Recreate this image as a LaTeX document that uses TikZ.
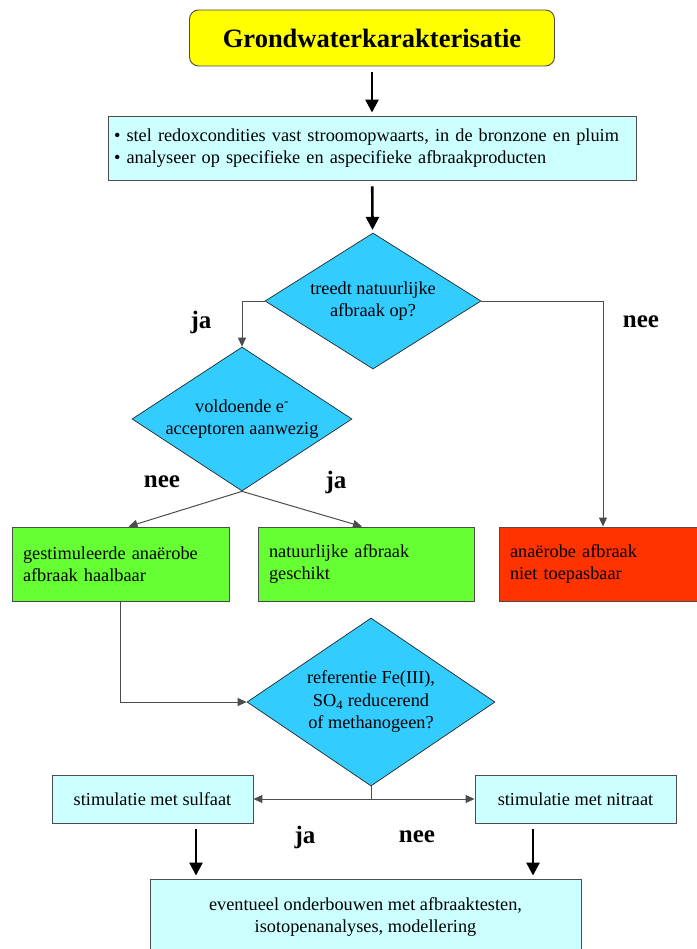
\documentclass[tikz,border=0pt]{standalone}
\usepackage{fontspec}
\setmainfont{Liberation Serif}
\usetikzlibrary{shapes.geometric,arrows.meta}
\definecolor{titleyellow}{HTML}{FFFF00}
\definecolor{infocyan}{HTML}{CCFFFF}
\definecolor{askblue}{HTML}{33CCFF}
\definecolor{okgreen}{HTML}{66FF33}
\definecolor{nored}{HTML}{FF3300}

\begin{document}
\begin{tikzpicture}
		[x=1pt,y=-1pt,
		font=\fontsize{18.3}{22.5}\selectfont,
		block/.style ={rectangle, draw=black!70, line width=0.9pt, fill=infocyan, inner sep=0pt},
		title/.style ={block, rounded corners=9pt, fill=titleyellow, font=\fontsize{26.5}{30}\selectfont\bfseries, minimum width=365, minimum height=56},
		result/.style ={block, minimum height=74, align=left},
		ask/.style ={diamond, draw=black!85, line width=0.7pt, fill=askblue, inner sep=-2pt, align=center},
		line/.style ={black!70, line width=1pt, -{Triangle[length=9pt,width=8pt]}},
		bigline/.style ={black, line width=2.6pt, -{Triangle[length=13pt,width=13pt]}, shorten <=6pt, shorten >=3pt},
		answer/.style ={font=\fontsize{25}{28}\selectfont\bfseries},
		]
		\useasboundingbox (0,0) rectangle (696,949);

		\draw (372,38) node[title] (T) {Grondwaterkarakterisatie};
		\draw (372,148) node[block, minimum width=528, minimum height=64, text width=516, align=left] (S)
			{\textbullet\ stel redoxcondities vast stroomopwaarts, in de bronzone en pluim\\
			 \textbullet\ analyseer op specifieke en aspecifieke afbraakproducten};

		\draw (373,301) node[ask, minimum width=216, minimum height=136, shape aspect=1.59] (D1) {treedt natuurlijke\\afbraak op?};
		\draw (242,419) node[ask, minimum width=220, minimum height=144, shape aspect=1.53] (D2) {voldoende e\textsuperscript{-}\\acceptoren aanwezig};
		\draw (371,702) node[ask, minimum width=248, minimum height=168, shape aspect=1.48] (D3) {referentie Fe(III),\\SO\textsubscript{4} reducerend\\of methanogeen?};

		\draw (120.5,564) node[result, fill=okgreen, minimum width=217, text width=195] (G1) {gestimuleerde anaërobe\\afbraak haalbaar};
		\draw (366,564) node[result, fill=okgreen, minimum width=216, text width=194] (G2) {natuurlijke afbraak\\geschikt};
		\draw (599.5,564) node[result, fill=nored, minimum width=201, text width=179] (R) {anaërobe afbraak\\niet toepasbaar};

		\draw (152.5,799) node[block, minimum width=201, minimum height=48] (L) {stimulatie met sulfaat};
		\draw (575.5,799) node[block, minimum width=201, minimum height=48] (N) {stimulatie met nitraat};
		\draw (365.5,917) node[block, minimum width=431, minimum height=76, align=center] (B)
			{eventueel onderbouwen met afbraaktesten,\\isotopenanalyses, modellering};

		\draw (201,322) node[answer] (A1) {ja};
		\draw (641,322) node[answer] (A2) {nee};
		\draw (162,482) node[answer] (A3) {nee};
		\draw (336,482) node[answer] (A4) {ja};
		\draw (305,837) node[answer] (A5) {ja};
		\draw (417,837) node[answer] (A6) {nee};

		\coordinate (J) at (D3.south |- L.east);

		\path[bigline]
		(T) edge (S)
		(S) edge (D1)
		([xshift=43.5pt]L.south) edge ([xshift=43.5pt]L.south |- B.north)
		([xshift=-42.5pt]N.south) edge ([xshift=-42.5pt]N.south |- B.north);
		\draw[line] (D1.west) -| (D2.north);
		\draw[line] (D1.east) -| ([xshift=3.5pt]R.north);
		\path[line]
		(D2.south) edge ([xshift=8pt]G1.north)
		(D2.south) edge ([xshift=-4pt]G2.north);
		\draw[line] (G1.south) |- (D3.west);
		\draw[line, -] (D3.south) -- (J);
		\path[line]
		(J) edge (L.east)
		(J) edge (N.west);
	\end{tikzpicture}
\end{document}
